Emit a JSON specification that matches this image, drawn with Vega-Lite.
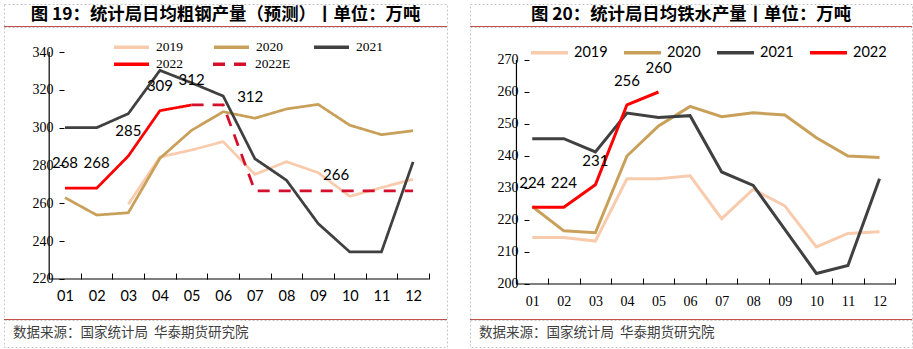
{
  "$schema": "https://vega.github.io/schema/vega-lite/v6.json",
  "background": "white",
  "padding": {"left": 3, "top": 3, "right": 0, "bottom": 0},
  "config": {"view": {"stroke": null}},
  "datasets": {
    "steel": [
      {"s": "2019", "m": "03", "v": 259.5}, {"s": "2019", "m": "04", "v": 284.5}, {"s": "2019", "m": "05", "v": 288.2}, {"s": "2019", "m": "06", "v": 292.6}, {"s": "2019", "m": "07", "v": 275.3}, {"s": "2019", "m": "08", "v": 282.0}, {"s": "2019", "m": "09", "v": 276.2}, {"s": "2019", "m": "10", "v": 263.7}, {"s": "2019", "m": "11", "v": 268.3}, {"s": "2019", "m": "12", "v": 272.7},
      {"s": "2020", "m": "01", "v": 263.0}, {"s": "2020", "m": "02", "v": 253.8}, {"s": "2020", "m": "03", "v": 255.0}, {"s": "2020", "m": "04", "v": 283.8}, {"s": "2020", "m": "05", "v": 298.6}, {"s": "2020", "m": "06", "v": 308.4}, {"s": "2020", "m": "07", "v": 305.0}, {"s": "2020", "m": "08", "v": 309.9}, {"s": "2020", "m": "09", "v": 312.3}, {"s": "2020", "m": "10", "v": 301.3}, {"s": "2020", "m": "11", "v": 296.3}, {"s": "2020", "m": "12", "v": 298.4},
      {"s": "2021", "m": "01", "v": 300.0}, {"s": "2021", "m": "02", "v": 300.0}, {"s": "2021", "m": "03", "v": 307.4}, {"s": "2021", "m": "04", "v": 330.3}, {"s": "2021", "m": "05", "v": 323.7}, {"s": "2021", "m": "06", "v": 316.7}, {"s": "2021", "m": "07", "v": 283.6}, {"s": "2021", "m": "08", "v": 272.2}, {"s": "2021", "m": "09", "v": 249.3}, {"s": "2021", "m": "10", "v": 234.3}, {"s": "2021", "m": "11", "v": 234.3}, {"s": "2021", "m": "12", "v": 281.9},
      {"s": "2022", "m": "01", "v": 268}, {"s": "2022", "m": "02", "v": 268}, {"s": "2022", "m": "03", "v": 285}, {"s": "2022", "m": "04", "v": 309}, {"s": "2022", "m": "05", "v": 312},
      {"s": "2022E", "m": "05", "v": 312}, {"s": "2022E", "m": "06", "v": 312}, {"s": "2022E", "m": "07", "v": 266.6}, {"s": "2022E", "m": "08", "v": 266.6}, {"s": "2022E", "m": "09", "v": 266.6}, {"s": "2022E", "m": "10", "v": 266.6}, {"s": "2022E", "m": "11", "v": 266.6}, {"s": "2022E", "m": "12", "v": 266.6}
    ],
    "steelLab": [
      {"m": "01", "v": 268, "g": 1}, {"m": "02", "v": 268, "g": 1}, {"m": "03", "v": 285, "g": 1}, {"m": "04", "v": 309, "g": 1}, {"m": "05", "v": 312, "g": 1},
      {"m": "06", "v": 312, "g": 2}, {"m": "09", "v": 266, "g": 3}
    ],
    "iron": [
      {"s": "2019", "m": "01", "v": 214.5}, {"s": "2019", "m": "02", "v": 214.5}, {"s": "2019", "m": "03", "v": 213.4}, {"s": "2019", "m": "04", "v": 232.9}, {"s": "2019", "m": "05", "v": 232.9}, {"s": "2019", "m": "06", "v": 233.8}, {"s": "2019", "m": "07", "v": 220.4}, {"s": "2019", "m": "08", "v": 229.6}, {"s": "2019", "m": "09", "v": 224.4}, {"s": "2019", "m": "10", "v": 211.6}, {"s": "2019", "m": "11", "v": 215.8}, {"s": "2019", "m": "12", "v": 216.3},
      {"s": "2020", "m": "01", "v": 224.2}, {"s": "2020", "m": "02", "v": 216.6}, {"s": "2020", "m": "03", "v": 216.0}, {"s": "2020", "m": "04", "v": 240.0}, {"s": "2020", "m": "05", "v": 249.4}, {"s": "2020", "m": "06", "v": 255.5}, {"s": "2020", "m": "07", "v": 252.3}, {"s": "2020", "m": "08", "v": 253.5}, {"s": "2020", "m": "09", "v": 252.8}, {"s": "2020", "m": "10", "v": 245.7}, {"s": "2020", "m": "11", "v": 240.0}, {"s": "2020", "m": "12", "v": 239.5},
      {"s": "2021", "m": "01", "v": 245.4}, {"s": "2021", "m": "02", "v": 245.4}, {"s": "2021", "m": "03", "v": 241.3}, {"s": "2021", "m": "04", "v": 253.4}, {"s": "2021", "m": "05", "v": 252.0}, {"s": "2021", "m": "06", "v": 252.6}, {"s": "2021", "m": "07", "v": 235.0}, {"s": "2021", "m": "08", "v": 230.8}, {"s": "2021", "m": "09", "v": 217.1}, {"s": "2021", "m": "10", "v": 203.3}, {"s": "2021", "m": "11", "v": 205.8}, {"s": "2021", "m": "12", "v": 232.9},
      {"s": "2022", "m": "01", "v": 224}, {"s": "2022", "m": "02", "v": 224}, {"s": "2022", "m": "03", "v": 231}, {"s": "2022", "m": "04", "v": 256}, {"s": "2022", "m": "05", "v": 260}
    ],
    "ironLab": [
      {"m": "01", "v": 224}, {"m": "02", "v": 224}, {"m": "03", "v": 231}, {"m": "04", "v": 256}, {"m": "05", "v": 260}
    ]
  },
  "resolve": {"scale": {"color": "independent", "strokeDash": "independent"}, "legend": {"color": "independent", "strokeDash": "independent"}},
  "hconcat": [
    {
      "spacing": 0,
      "bounds": "flush",
      "resolve": {"scale": {"color": "independent", "strokeDash": "independent"}, "legend": {"color": "independent", "strokeDash": "independent"}},
      "vconcat": [
        {
          "width": 443, "height": 22,
          "view": {"stroke": "#c8c8c8", "strokeDash": [2, 2]},
          "data": {"values": [{"t": "图 19：统计局日均粗钢产量（预测）丨单位：万吨"}]},
          "mark": {"type": "text", "font": "Noto Sans CJK SC", "fontWeight": "bold", "fontSize": 17.4, "color": "#000000"},
          "encoding": {"text": {"field": "t", "type": "nominal"}}
        },
        {
          "width": 443, "height": 1,
          "view": {"fill": "#c0504d", "stroke": null},
          "data": {"values": []},
          "mark": "text",
          "encoding": {}
        },
        {
          "width": 443, "height": 292,
          "view": {"stroke": "#c8c8c8", "strokeDash": [2, 2]},
          "layer": [
            {
              "data": {"name": "steel"},
              "mark": {"type": "line", "strokeWidth": 2.75},
              "encoding": {
                "x": {"field": "m", "type": "ordinal", "bandPosition": 0.5,
                  "scale": {"type": "band", "domain": ["01","02","03","04","05","06","07","08","09","10","11","12"], "paddingInner": 0, "paddingOuter": 1.2623, "align": 0.714},
                  "axis": {"title": null, "domain": false, "grid": false, "tickBand": "extent", "tickSize": -6, "tickColor": "#000000", "offset": -40, "labelFont": "Lato", "labelFontSize": 14.5, "labelColor": "#000000", "labelPadding": 16, "labelAngle": 0}},
                "y": {"field": "v", "type": "quantitative",
                  "scale": {"domain": [198.85, 353.22], "nice": false, "zero": false},
                  "axis": {"title": null, "domain": false, "grid": false, "values": [220, 240, 260, 280, 300, 320, 340], "tickSize": -5, "tickColor": "#000000", "offset": -55, "labelFont": "Liberation Serif", "labelFontSize": 14, "labelColor": "#000000", "labelPadding": 11}},
                "color": {"field": "s", "type": "nominal",
                  "scale": {"domain": ["2019","2020","2021","2022","2022E"], "range": ["#f8cbad","#c8a05a","#404040","#ff0000","#d40f2c"]},
                  "legend": {"values": ["2019", "2020", "2021"], "orient": "none", "legendX": 108, "legendY": 0.5, "direction": "horizontal", "columns": 3, "title": null, "symbolType": "stroke", "symbolSize": 1225, "symbolStrokeWidth": 3.5, "labelFont": "Liberation Serif", "labelFontSize": 13.5, "labelColor": "#000000", "labelOffset": 5, "columnPadding": 24, "gridAlign": "all"}},
                "strokeDash": {"field": "s", "type": "nominal",
                  "scale": {"domain": ["2022","2022E","2019","2020","2021"], "range": [[1,0],[12,9],[1,0],[1,0],[1,0]]},
                  "legend": {"values": ["2022", "2022E"], "orient": "none", "legendX": 108, "legendY": 17.5, "direction": "horizontal", "columns": 2, "title": null, "symbolType": "stroke", "symbolSize": 1225, "symbolStrokeWidth": 3.5, "labelFont": "Liberation Serif", "labelFontSize": 13.5, "labelColor": "#000000", "labelOffset": 5, "columnPadding": 14, "gridAlign": "all",
                    "encode": {"symbols": {"update": {"stroke": {"signal": "datum.value === '2022E' ? '#d40f2c' : '#ff0000'"}, "strokeDash": {"signal": "datum.value === '2022E' ? [10, 7] : [1, 0]"}}}}}}
              }
            },
            {
              "data": {"values": [{}]},
              "mark": {"type": "rule", "color": "#000000", "strokeWidth": 1.2},
              "encoding": {
                "x": {"datum": "01", "type": "ordinal", "bandPosition": 0},
                "y": {"datum": 220, "type": "quantitative"},
                "y2": {"datum": 340}
              }
            },
            {
              "data": {"values": [{}]},
              "mark": {"type": "rule", "color": "#000000", "strokeWidth": 1.2},
              "encoding": {
                "x": {"datum": "01", "type": "ordinal", "bandPosition": 0},
                "x2": {"datum": "12", "bandPosition": 1},
                "y": {"datum": 220, "type": "quantitative"}
              }
            },
            {
              "data": {"name": "steelLab"},
              "transform": [{"filter": "datum.g == 1"}],
              "mark": {"type": "text", "dy": -25, "font": "Lato", "fontSize": 15, "color": "#000000"},
              "encoding": {
                "x": {"field": "m", "type": "ordinal", "bandPosition": 0.5},
                "y": {"field": "v", "type": "quantitative"},
                "text": {"field": "v", "type": "quantitative"}
              }
            },
            {
              "data": {"name": "steelLab"},
              "transform": [{"filter": "datum.g == 2"}],
              "mark": {"type": "text", "dx": 27, "dy": -8, "font": "Lato", "fontSize": 15, "color": "#000000"},
              "encoding": {
                "x": {"field": "m", "type": "ordinal", "bandPosition": 0.5},
                "y": {"field": "v", "type": "quantitative"},
                "text": {"field": "v", "type": "quantitative"}
              }
            },
            {
              "data": {"name": "steelLab"},
              "transform": [{"filter": "datum.g == 3"}],
              "mark": {"type": "text", "dx": 18, "dy": -17, "font": "Lato", "fontSize": 15, "color": "#000000"},
              "encoding": {
                "x": {"field": "m", "type": "ordinal", "bandPosition": 0.5},
                "y": {"field": "v", "type": "quantitative"},
                "text": {"field": "v", "type": "quantitative"}
              }
            }
          ]
        },
        {
          "width": 443, "height": 1,
          "view": {"fill": "#c0504d", "stroke": null},
          "title": {"text": "数据来源：国家统计局\u00a0\u00a0华泰期货研究院", "orient": "bottom", "anchor": "start", "offset": 13, "dx": 9, "baseline": "middle", "font": "Noto Sans CJK SC", "fontSize": 13.5, "fontWeight": "normal", "color": "#404040"},
          "data": {"values": []},
          "mark": "text",
          "encoding": {}
        },
        {
          "width": 443, "height": 27,
          "view": {"stroke": "#c8c8c8", "strokeDash": [2, 2]},
          "data": {"values": []},
          "mark": "text",
          "encoding": {}
        }
      ]
    },
    {
      "spacing": 0,
      "bounds": "flush",
      "resolve": {"scale": {"color": "independent"}, "legend": {"color": "independent"}},
      "vconcat": [
        {
          "width": 442, "height": 22,
          "view": {"stroke": "#c8c8c8", "strokeDash": [2, 2]},
          "data": {"values": [{"t": "图 20：统计局日均铁水产量丨单位：万吨"}]},
          "mark": {"type": "text", "font": "Noto Sans CJK SC", "fontWeight": "bold", "fontSize": 17.4, "color": "#000000"},
          "encoding": {"text": {"field": "t", "type": "nominal"}}
        },
        {
          "width": 442, "height": 1,
          "view": {"fill": "#c0504d", "stroke": null},
          "data": {"values": []},
          "mark": "text",
          "encoding": {}
        },
        {
          "width": 442, "height": 292,
          "view": {"stroke": "#c8c8c8", "strokeDash": [2, 2]},
          "layer": [
            {
              "data": {"name": "iron"},
              "mark": {"type": "line", "strokeWidth": 3},
              "encoding": {
                "x": {"field": "m", "type": "ordinal", "bandPosition": 0.5,
                  "scale": {"type": "band", "domain": ["01","02","03","04","05","06","07","08","09","10","11","12"], "paddingInner": 0, "paddingOuter": 1.1947, "align": 0.7357},
                  "axis": {"title": null, "domain": false, "grid": false, "tickBand": "extent", "tickSize": -6, "tickColor": "#000000", "offset": -35, "labelFont": "Liberation Serif", "labelFontSize": 14, "labelColor": "#000000", "labelPadding": 16, "labelAngle": 0}},
                "y": {"field": "v", "type": "quantitative",
                  "scale": {"domain": [189.06, 280.31], "nice": false, "zero": false},
                  "axis": {"title": null, "domain": false, "grid": false, "values": [200, 210, 220, 230, 240, 250, 260, 270], "tickSize": -5, "tickColor": "#000000", "offset": -54, "labelFont": "Liberation Serif", "labelFontSize": 14, "labelColor": "#000000", "labelPadding": 11}},
                "color": {"field": "s", "type": "nominal",
                  "scale": {"domain": ["2019","2020","2021","2022"], "range": ["#f8cbad","#c8a05a","#404040","#ff0000"]},
                  "legend": {"orient": "none", "legendX": 59, "legendY": 5, "direction": "horizontal", "columns": 4, "title": null, "symbolType": "stroke", "symbolSize": 1369, "symbolStrokeWidth": 3.5, "labelFont": "Lato", "labelFontSize": 14.5, "labelColor": "#000000", "labelOffset": 4, "columnPadding": 9, "gridAlign": "all"}}
              }
            },
            {
              "data": {"values": [{}]},
              "mark": {"type": "rule", "color": "#000000", "strokeWidth": 1.2},
              "encoding": {
                "x": {"datum": "01", "type": "ordinal", "bandPosition": 0},
                "y": {"datum": 200, "type": "quantitative"},
                "y2": {"datum": 270}
              }
            },
            {
              "data": {"values": [{}]},
              "mark": {"type": "rule", "color": "#000000", "strokeWidth": 1.2},
              "encoding": {
                "x": {"datum": "01", "type": "ordinal", "bandPosition": 0},
                "x2": {"datum": "12", "bandPosition": 1},
                "y": {"datum": 200, "type": "quantitative"}
              }
            },
            {
              "data": {"name": "ironLab"},
              "mark": {"type": "text", "dy": -24, "font": "Lato", "fontSize": 15, "color": "#000000"},
              "encoding": {
                "x": {"field": "m", "type": "ordinal", "bandPosition": 0.5},
                "y": {"field": "v", "type": "quantitative"},
                "text": {"field": "v", "type": "quantitative"}
              }
            }
          ]
        },
        {
          "width": 442, "height": 1,
          "view": {"fill": "#c0504d", "stroke": null},
          "title": {"text": "数据来源：国家统计局\u00a0\u00a0华泰期货研究院", "orient": "bottom", "anchor": "start", "offset": 13, "dx": 9, "baseline": "middle", "font": "Noto Sans CJK SC", "fontSize": 13.5, "fontWeight": "normal", "color": "#404040"},
          "data": {"values": []},
          "mark": "text",
          "encoding": {}
        },
        {
          "width": 442, "height": 27,
          "view": {"stroke": "#c8c8c8", "strokeDash": [2, 2]},
          "data": {"values": []},
          "mark": "text",
          "encoding": {}
        }
      ]
    }
  ],
  "spacing": 21
}
